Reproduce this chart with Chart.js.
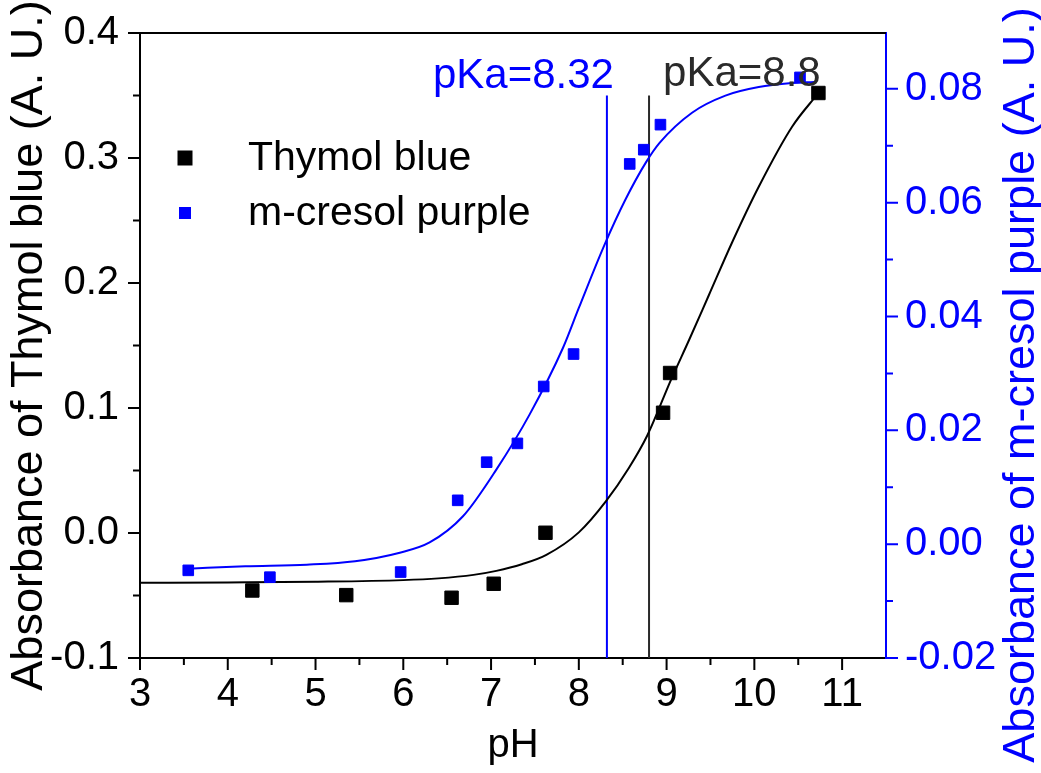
<!DOCTYPE html>
<html>
<head>
<meta charset="utf-8">
<title>Thymol blue / m-cresol purple pKa</title>
<script src="https://cdn.jsdelivr.net/npm/chart.js@4.4.0/dist/chart.umd.min.js"></script>
<style>
  body { margin: 0; background: #fff; }
  #wrap { width: 1041px; height: 773px; }
</style>
</head>
<body>
<div id="wrap"><canvas id="myChart" width="1041" height="773"></canvas></div>
<script>
'use strict';
let fontFamily = '"Liberation Sans", Arial, sans-serif';
let blue = '#0000ff';

// measured absorbance vs pH
let thymolPH = [4.28, 5.35, 6.55, 7.03, 7.62, 8.96, 9.04, 10.73];
let thymolAbs = [-0.046, -0.0497, -0.0518, -0.0406, 0.0002, 0.0962, 0.128, 0.352];
let cresolPH = [3.55, 4.48, 5.97, 6.62, 6.95, 7.30, 7.60, 7.94, 8.58, 8.74, 8.93, 10.52];
let cresolAbs = [-0.0046, -0.0058, -0.0049, 0.0077, 0.0144, 0.0177, 0.0277, 0.0334, 0.0668, 0.0693, 0.0737, 0.0820];

// fitted curves
let thymolFitPH = [3.0, 4.0, 5.0, 6.0, 6.4, 6.8, 7.06, 7.35, 7.63, 8.0, 8.31, 8.57, 8.78, 9.05, 9.26, 9.48, 9.75, 10.05, 10.43, 10.73];
let thymolFitAbs = [-0.0398, -0.0395, -0.039, -0.0377, -0.0363, -0.0335, -0.0303, -0.025, -0.0175, 0.0005, 0.0255, 0.052, 0.078, 0.1225, 0.155, 0.19, 0.233, 0.277, 0.325, 0.352];
let cresolFitPH = [3.55, 4.2, 4.9, 5.45, 5.96, 6.3, 6.68, 7.06, 7.44, 7.82, 8.0, 8.29, 8.53, 8.77, 8.92, 9.29, 9.67, 10.05, 10.43, 10.68];
let cresolFitAbs = [-0.0043, -0.0039, -0.0036, -0.003, -0.0015, 0.0003, 0.0049, 0.0131, 0.0228, 0.0345, 0.0415, 0.0525, 0.0605, 0.0672, 0.0705, 0.0758, 0.0788, 0.0803, 0.081, 0.0812];

// pKa markers
let pKaValues = [8.32, 8.8];
let pKaLabels = ['pKa=8.32', 'pKa=8.8'];
let pKaColors = [blue, '#2a2a2a'];
let pKaLineRange = [-0.1, 0.35];

// axis ticks
let xMajor = [3, 4, 5, 6, 7, 8, 9, 10, 11];
let xMinor = [3.5, 4.5, 5.5, 6.5, 7.5, 8.5, 9.5, 10.5];
let yMajor = [-0.1, 0, 0.1, 0.2, 0.3, 0.4];
let yMinor = [-0.05, 0.05, 0.15, 0.25, 0.35];
let y2Major = [-0.02, 0, 0.02, 0.04, 0.06, 0.08];
let y2Minor = [-0.01, 0.01, 0.03, 0.05, 0.07];

function pairs(xs, ys) {
    let out = [];
    for (let i = 0; i < xs.length; i++) {
        out.push({ x: xs[i], y: ys[i] });
    }
    return out;
}

function tickMarks(ctx, chart, axis, values, len, color) {
    let area = chart.chartArea;
    let scale = chart.scales[axis];
    ctx.strokeStyle = color;
    ctx.lineWidth = 2;
    ctx.beginPath();
    for (let i = 0; i < values.length; i++) {
        let p = scale.getPixelForValue(values[i]);
        if (axis === 'x') {
            ctx.moveTo(p, area.bottom);
            ctx.lineTo(p, area.bottom + len);
        } else if (axis === 'y') {
            ctx.moveTo(area.left - len, p);
            ctx.lineTo(area.left, p);
        } else {
            ctx.moveTo(area.right, p);
            ctx.lineTo(area.right + len, p);
        }
    }
    ctx.stroke();
}

let extras = {
    id: 'extras',
    afterDraw(chart) {
        let ctx = chart.ctx;
        let area = chart.chartArea;
        let sx = chart.scales.x;
        let sy = chart.scales.y;
        ctx.save();

        // top frame
        ctx.strokeStyle = '#000';
        ctx.lineWidth = 2;
        ctx.beginPath();
        ctx.moveTo(area.left, area.top);
        ctx.lineTo(area.right, area.top);
        ctx.stroke();

        tickMarks(ctx, chart, 'x', xMajor, 12, '#000');
        tickMarks(ctx, chart, 'x', xMinor, 7, '#000');
        tickMarks(ctx, chart, 'y', yMajor, 12, '#000');
        tickMarks(ctx, chart, 'y', yMinor, 7, '#000');
        tickMarks(ctx, chart, 'y2', y2Major, 12, blue);
        tickMarks(ctx, chart, 'y2', y2Minor, 7, blue);

        // right axis title, reading bottom to top
        ctx.save();
        ctx.translate(1022, 385);
        ctx.rotate(-Math.PI / 2);
        ctx.font = '45px ' + fontFamily;
        ctx.fillStyle = blue;
        ctx.textAlign = 'center';
        ctx.textBaseline = 'middle';
        ctx.fillText('Absorbance of m-cresol purple (A. U.)', 0, 0);
        ctx.restore();

        // pKa labels
        ctx.font = '42px ' + fontFamily;
        ctx.textBaseline = 'middle';
        ctx.fillStyle = pKaColors[0];
        ctx.textAlign = 'right';
        ctx.fillText(pKaLabels[0], sx.getPixelForValue(pKaValues[0]) + 7, sy.getPixelForValue(0.3655));
        ctx.fillStyle = pKaColors[1];
        ctx.textAlign = 'left';
        ctx.fillText(pKaLabels[1], sx.getPixelForValue(pKaValues[1]) + 14, sy.getPixelForValue(0.367));

        // legend
        let legendItems = [
            { label: 'Thymol blue', color: '#000', size: 15, y: 158 },
            { label: 'm-cresol purple', color: blue, size: 12, y: 213 }
        ];
        ctx.font = '41px ' + fontFamily;
        ctx.textAlign = 'left';
        for (let i = 0; i < legendItems.length; i++) {
            let it = legendItems[i];
            ctx.fillStyle = it.color;
            ctx.fillRect(185 - it.size / 2, it.y - it.size / 2, it.size, it.size);
            ctx.fillStyle = '#000';
            ctx.fillText(it.label, 248, it.y + 1);
        }
        ctx.restore();
    }
};

let datasets = [
    {
        label: 'Thymol blue',
        data: pairs(thymolPH, thymolAbs),
        yAxisID: 'y',
        pointStyle: 'rect',
        pointRadius: 9.5,
        backgroundColor: '#000',
        borderColor: '#000',
        borderWidth: 1,
        order: 0
    },
    {
        label: 'm-cresol purple',
        data: pairs(cresolPH, cresolAbs),
        yAxisID: 'y2',
        pointStyle: 'rect',
        pointRadius: 7.5,
        backgroundColor: blue,
        borderColor: blue,
        borderWidth: 1,
        order: 0
    },
    {
        label: 'Thymol blue fit',
        data: pairs(thymolFitPH, thymolFitAbs),
        yAxisID: 'y',
        showLine: true,
        pointRadius: 0,
        borderColor: '#000',
        borderWidth: 2,
        cubicInterpolationMode: 'monotone',
        order: 1
    },
    {
        label: 'm-cresol purple fit',
        data: pairs(cresolFitPH, cresolFitAbs),
        yAxisID: 'y2',
        showLine: true,
        pointRadius: 0,
        borderColor: blue,
        borderWidth: 2,
        cubicInterpolationMode: 'monotone',
        order: 1
    }
];

for (let i = 0; i < pKaValues.length; i++) {
    datasets.push({
        label: pKaLabels[i],
        data: pairs([pKaValues[i], pKaValues[i]], pKaLineRange),
        yAxisID: 'y',
        showLine: true,
        pointRadius: 0,
        borderColor: pKaColors[i],
        borderWidth: 2,
        order: 2
    });
}

let ctx = document.getElementById('myChart').getContext('2d');
let myChart = new Chart(ctx, {
    type: 'scatter',
    data: { datasets: datasets },
    plugins: [extras],
    options: {
        responsive: false,
        animation: false,
        layout: { padding: { top: 33, left: 0, right: 0, bottom: 0 } },
        plugins: {
            legend: { display: false },
            tooltip: { enabled: false }
        },
        scales: {
            x: {
                type: 'linear',
                min: 3,
                max: 11.5,
                afterFit: function (s) { s.height = 115; },
                afterBuildTicks: function (s) { s.ticks = xMajor.map(v => ({ value: v })); },
                grid: { drawOnChartArea: false, tickLength: 12, tickColor: 'rgba(0,0,0,0)' },
                border: { color: '#000', width: 2 },
                ticks: {
                    autoSkip: false,
                    maxRotation: 0,
                    padding: 1,
                    color: '#000',
                    font: { family: fontFamily, size: 40 },
                    callback: v => String(v)
                },
                title: {
                    display: true,
                    text: 'pH',
                    color: '#000',
                    padding: { top: 0, bottom: 3 },
                    font: { family: fontFamily, size: 40 }
                }
            },
            y: {
                type: 'linear',
                position: 'left',
                min: -0.1,
                max: 0.4,
                afterFit: function (s) { s.width = 140; },
                afterBuildTicks: function (s) { s.ticks = yMajor.map(v => ({ value: v })); },
                grid: { drawOnChartArea: false, tickLength: 12, tickColor: 'rgba(0,0,0,0)' },
                border: { color: '#000', width: 2 },
                ticks: {
                    autoSkip: false,
                    padding: 9,
                    color: '#000',
                    font: { family: fontFamily, size: 40 },
                    callback: v => v.toFixed(1)
                },
                title: {
                    display: true,
                    text: 'Absorbance of Thymol blue (A. U.)',
                    color: '#000',
                    padding: { top: 3, bottom: 0 },
                    font: { family: fontFamily, size: 45 }
                }
            },
            y2: {
                type: 'linear',
                position: 'right',
                min: -0.02,
                max: 0.0898,
                afterFit: function (s) { s.width = 155; },
                afterBuildTicks: function (s) { s.ticks = y2Major.map(v => ({ value: v })); },
                grid: { drawOnChartArea: false, tickLength: 12, tickColor: 'rgba(0,0,0,0)' },
                border: { color: blue, width: 2 },
                ticks: {
                    autoSkip: false,
                    padding: 7,
                    color: blue,
                    font: { family: fontFamily, size: 40 },
                    callback: v => v.toFixed(2)
                }
            }
        }
    }
});
</script>
</body>
</html>
